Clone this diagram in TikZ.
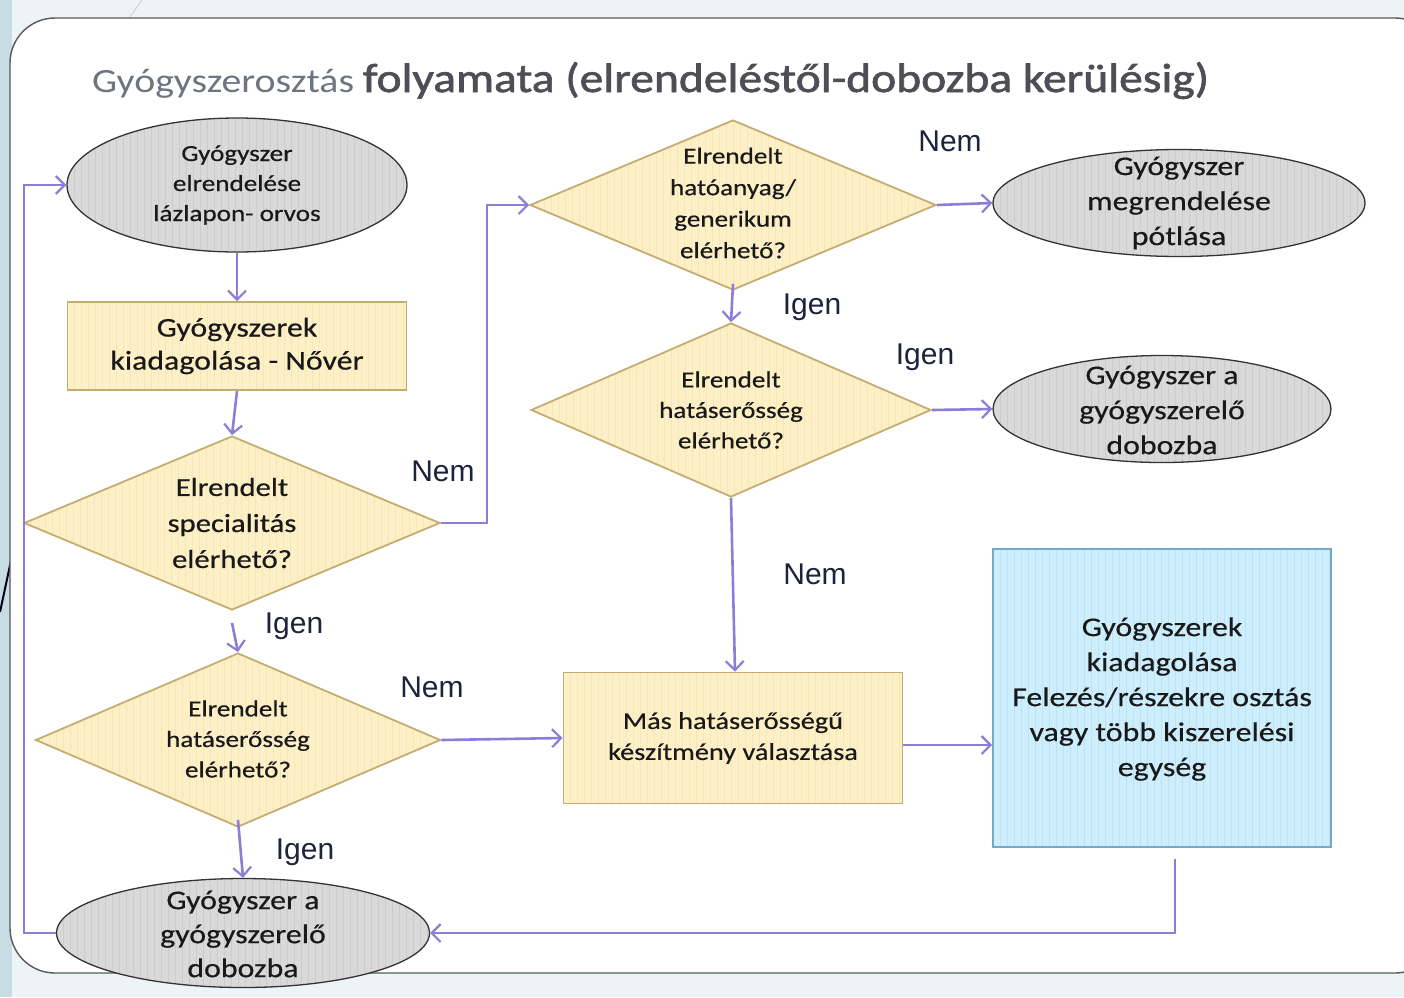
\documentclass[tikz,border=0pt]{standalone}
\usepackage{fontspec}
\setmainfont{Carlito}[FakeStretch=1.18,FakeBold=0.5]
\newfontfamily\titlea{Carlito}[FakeStretch=1.17]
\newfontfamily\titleb{Carlito}[FakeStretch=1.16,FakeBold=1.6]
\newfontfamily\arialf{Liberation Sans}
\usetikzlibrary{shapes.geometric,arrows.meta}
\definecolor{arr}{RGB}{140,125,215}
\definecolor{yfill}{RGB}{253,240,198}
\definecolor{ystripe}{RGB}{246,230,184}
\definecolor{ydraw}{RGB}{196,173,114}
\definecolor{gfill}{RGB}{217,217,217}
\definecolor{gstripe}{RGB}{204,204,204}
\definecolor{bfill}{RGB}{205,238,252}
\definecolor{bstripe}{RGB}{190,226,244}
\definecolor{bdraw}{RGB}{116,169,199}
\definecolor{lbl}{RGB}{30,35,60}
\definecolor{bgout}{RGB}{238,243,246}
\definecolor{bgleft}{RGB}{200,220,228}
\definecolor{tlight}{RGB}{110,116,128}
\definecolor{tdark}{RGB}{78,78,86}
\begin{document}
\begin{tikzpicture}[x=1pt,y=-1pt,
  stripes/.style={path picture={\foreach \i in {0,7,...,420}{\draw[#1,line width=0.8pt] ([xshift=\i pt]path picture bounding box.south west) -- ([xshift=\i pt]path picture bounding box.north west);}}},
  oval/.style={ellipse,draw=black!80,line width=1.3pt,fill=gfill,stripes=gstripe,inner sep=0pt},
  dia/.style={diamond,draw=ydraw,line width=1.8pt,fill=yfill,stripes=ystripe,inner sep=0pt},
  ybox/.style={rectangle,draw=ydraw,line width=1.8pt,fill=yfill,stripes=ystripe,inner sep=0pt},
  bbox/.style={rectangle,draw=bdraw,line width=1.8pt,fill=bfill,stripes=bstripe,inner sep=0pt},
  txt/.style={align=center,inner sep=0pt,text=black!90},
  lab/.style={font=\arialf\fontsize{30}{34}\selectfont,text=lbl,inner sep=0pt},
  conn/.style={draw=arr,line width=2.6pt,-{Straight Barb[length=9pt,width=18pt,line width=2.2pt]}},
  line/.style={draw=arr,line width=2.6pt}
]
\useasboundingbox (0,0) rectangle (1404,997);
% background
\fill[bgout] (0,0) rectangle (1404,997);
\fill[bgleft] (0,0) rectangle (12,997);
\draw[black!70!blue!40!black,line width=2pt] (0,612) -- (12,556);
\draw[black!20,line width=0.8pt] (142,0) -- (130,17);
\draw[black!65,line width=1.4pt,fill=white,rounded corners=45pt] (10,18) rectangle (1440,973);
% title
\node[anchor=base west,inner sep=0pt] (title) at (92,92)
  {\titlea\fontsize{34}{40}\selectfont\textcolor{tlight}{Gyógyszerosztás} \titleb\fontsize{41}{46}\selectfont\textcolor{tdark}{folyamata (elrendeléstől-dobozba kerülésig)}};
% shapes
\node[oval,minimum width=340pt,minimum height=134pt] (e1) at (237,185) {};
\node[ybox,minimum width=339pt,minimum height=88pt] (r1) at (237,346) {};
\node[dia,minimum width=416pt,minimum height=174pt] (d1) at (232,523) {};
\node[dia,minimum width=406pt,minimum height=170pt] (d2) at (733,205) {};
\node[dia,minimum width=400pt,minimum height=174pt] (d3) at (731,410) {};
\node[dia,minimum width=405pt,minimum height=174pt] (d4) at (238,740) {};
\node[oval,minimum width=372pt,minimum height=107pt] (e2) at (1179,203) {};
\node[oval,minimum width=338pt,minimum height=107pt] (e3) at (1162,409) {};
\node[oval,minimum width=373pt,minimum height=109pt] (e4) at (243,933) {};
\node[ybox,minimum width=339pt,minimum height=131pt] (r2) at (733,738) {};
\node[bbox,minimum width=338pt,minimum height=298pt] (r3) at (1162,698) {};
% texts
\node[txt,font=\fontsize{23}{30}\selectfont] (e1t) at (e1.center) {Gyógyszer\\elrendelése\\lázlapon- orvos};
\node[txt,font=\fontsize{27}{33}\selectfont] (r1t) at (r1.center) {Gyógyszerek\\kiadagolása - Nővér};
\node[txt,font=\fontsize{26}{36}\selectfont] (d1t) at (d1.center) {Elrendelt\\specialitás\\elérhető?};
\node[txt,font=\fontsize{23}{31.5}\selectfont] (d2t) at (733,203) {Elrendelt\\hatóanyag/\\generikum\\elérhető?};
\node[txt,font=\fontsize{23}{30.5}\selectfont] (d3t) at (d3.center) {Elrendelt\\hatáserősség\\elérhető?};
\node[txt,font=\fontsize{23}{30.5}\selectfont] (d4t) at (238,739) {Elrendelt\\hatáserősség\\elérhető?};
\node[txt,font=\fontsize{27}{35}\selectfont] (e2t) at (e2.center) {Gyógyszer\\megrendelése\\pótlása};
\node[txt,font=\fontsize{27}{35}\selectfont] (e3t) at (1162,410) {Gyógyszer a\\gyógyszerelő\\dobozba};
\node[txt,font=\fontsize{27}{34}\selectfont] (e4t) at (243,934) {Gyógyszer a\\gyógyszerelő\\dobozba};
\node[txt,font=\fontsize{24}{31}\selectfont] (r2t) at (r2.center) {Más hatáserősségű\\készítmény választása};
\node[txt,font=\fontsize{27}{35}\selectfont] (r3t) at (1162,699) {Gyógyszerek\\kiadagolása\\Felezés/részekre osztás\\vagy több kiszerelési\\egység};
% connectors
\draw[conn] (e1.south) -- (r1.north);
\draw[conn] (r1.south) -- (d1.north);
\draw[conn] (d1.east) -- ++(46,0) |- (d2.west);
\draw[conn] ([yshift=-12pt]d1.south) -- (d4.north);
\draw[conn] (d2.east) -- (e2.west);
\draw[conn] ([yshift=7pt]d2.south) -- (d3.north);
\draw[conn] (d3.east) -- (e3.west);
\draw[conn] (d3.south) -- ([xshift=2pt]r2.north);
\draw[conn] (d4.east) -- (r2.west);
\draw[conn] ([yshift=8pt]d4.south) -- (e4.north);
\draw[conn] ([yshift=-7pt]r2.east) -- ([yshift=-7pt]r2.east -| r3.west);
\draw[conn] ([xshift=13pt,yshift=-11pt]r3.south) |- (e4.east);
\draw[conn] (e4.west) -- ++(-32,0) |- (e1.west);
% labels
\node[lab] (l1) at (950,141) {Nem};
\node[lab] (l2) at (812,307) {Igen};
\node[lab] (l3) at (925,357) {Igen};
\node[lab] (l4) at (443,471) {Nem};
\node[lab] (l5) at (815,574) {Nem};
\node[lab] (l6) at (294,626) {Igen};
\node[lab] (l7) at (432,687) {Nem};
\node[lab] (l8) at (305,852) {Igen};
\end{tikzpicture}
\end{document}
